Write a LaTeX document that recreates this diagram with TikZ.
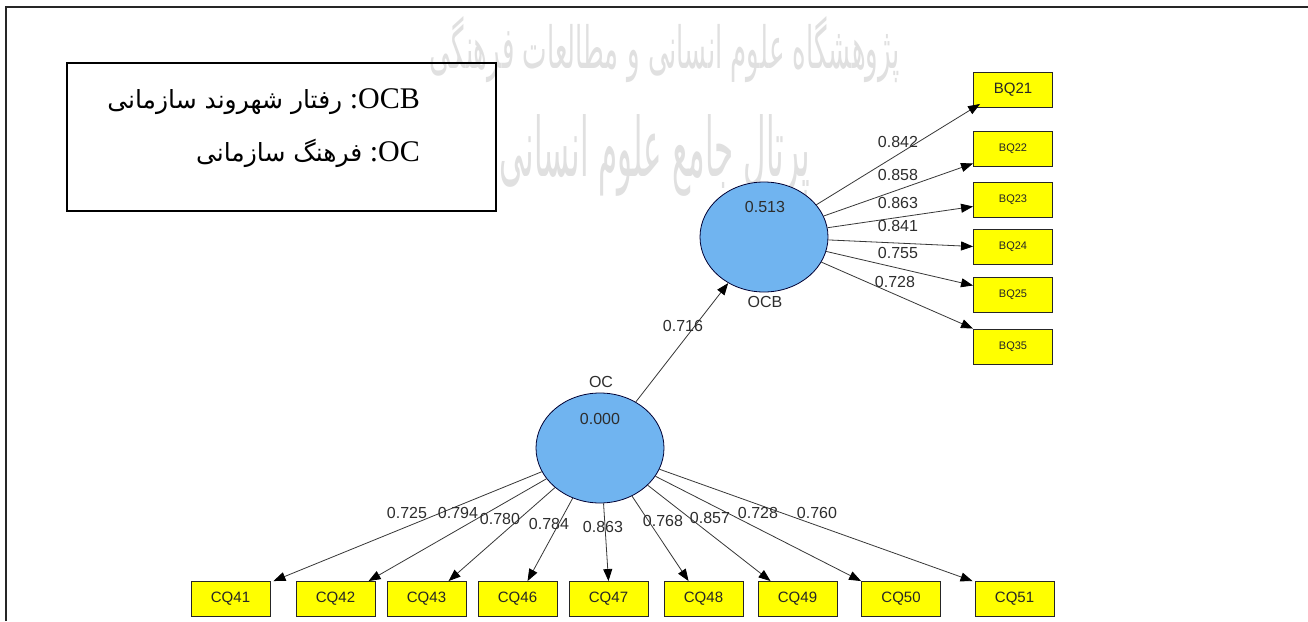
\documentclass[tikz,border=0pt]{standalone}
\usepackage{fontspec}
\usepackage{graphicx}
\setmainfont{Liberation Serif}
\newfontfamily\arialf{Liberation Sans}
\newfontfamily\farsi[Script=Arabic]{DejaVu Sans}
\TeXXeTstate=1
\usetikzlibrary{shapes.geometric,arrows.meta}
\definecolor{lvblue}{RGB}{112,180,240}
\definecolor{boxyellow}{RGB}{255,255,0}
\definecolor{edgegray}{RGB}{55,55,55}
\definecolor{txtgray}{RGB}{45,45,45}
\definecolor{wmgray}{RGB}{224,224,224}
\begin{document}
\begin{tikzpicture}[x=1pt,y=-1pt,
  lv/.style={ellipse, draw=black!80!blue, line width=0.8pt, fill=lvblue,
    minimum width=128pt, minimum height=110pt, inner sep=0pt},
  mv/.style={rectangle, draw=black!85, line width=0.9pt, fill=boxyellow,
    minimum width=79pt, minimum height=35pt, inner sep=0pt,
    font=\arialf\fontsize{15}{15}\selectfont, text=black!85},
  mvs/.style={mv, font=\arialf\fontsize{11}{11}\selectfont},
  num/.style={font=\arialf\fontsize{16}{16}\selectfont, text=txtgray, inner sep=0pt},
  arr/.style={-{Triangle[length=12pt,width=9pt,color=black]}, draw=edgegray, line width=0.8pt},
  legtxt/.style={font=\fontsize{30}{30}\selectfont, inner sep=0pt},
  wmark/.style={text=wmgray, inner sep=0pt},
]
\useasboundingbox (0,0) rectangle (1308,621);
\fill[white] (0,0) rectangle (1308,621);

% watermark
\node[wmark] (wm1) at (665,50) {\resizebox{470pt}{52pt}{\farsi\beginR پژوهشگاه علوم انسانی و مطالعات فرهنگی\endR}};
\node[wmark] (wm2) at (655,155) {\resizebox{310pt}{62pt}{\farsi\beginR پرتال جامع علوم انسانی\endR}};

% frame
\draw[line width=1.5pt, black!85] (6,621) -- (6,7) -- (1308,7);

% legend
\node[draw, line width=1.6pt, minimum width=429pt, minimum height=148pt,
  anchor=north west, inner sep=0pt] (legend) at (66,62) {};
\node[legtxt, anchor=base east] (leg1) at (420,108)
  {{\farsi\fontsize{25}{25}\selectfont\beginR رفتار شهروند سازمانی\endR}\ :OCB};
\node[legtxt, anchor=base east] (leg2) at (420,161)
  {{\farsi\fontsize{25}{25}\selectfont\beginR فرهنگ سازمانی\endR}\ :OC};

% latent variables
\node[lv] (OCB) at (764,237) {};
\node[lv] (OC) at (600,448) {};
\node[num] (OCBr) at (765,207) {0.513};
\node[num] (OCBn) at (765,302) {OCB};
\node[num] (OCr) at (600,419) {0.000};
\node[num] (OCn) at (601,382) {OC};

% OCB indicators
\node[mv]  (BQ21) at (1013,90)    {BQ21};
\node[mvs] (BQ22) at (1013,148.5) {BQ22};
\node[mvs] (BQ23) at (1013,199.5) {BQ23};
\node[mvs] (BQ24) at (1013,246.5) {BQ24};
\node[mvs] (BQ25) at (1013,294.5) {BQ25};
\node[mvs] (BQ35) at (1013,346.5) {BQ35};

% OC indicators
\node[mv] (CQ41) at (230.5,599) {CQ41};
\node[mv] (CQ42) at (335.5,599) {CQ42};
\node[mv] (CQ43) at (426.5,599) {CQ43};
\node[mv] (CQ46) at (517.5,599) {CQ46};
\node[mv] (CQ47) at (608.5,599) {CQ47};
\node[mv] (CQ48) at (703.5,599) {CQ48};
\node[mv] (CQ49) at (797.5,599) {CQ49};
\node[mv] (CQ50) at (901,599)   {CQ50};
\node[mv] (CQ51) at (1014.5,599) {CQ51};

% structural path
\draw[arr] (OC) -- (OCB);
\node[num] (p1) at (683,326) {0.716};

% OCB loadings
\draw[arr] (OCB) -- ([xshift=7pt,yshift=4pt]BQ21.south west);
\draw[arr] (OCB) -- ([yshift=3pt]BQ22.south west);
\draw[arr] (OCB) -- ([yshift=-7pt]BQ23.west);
\draw[arr] (OCB) -- (BQ24.west);
\draw[arr] (OCB) -- ([yshift=9pt]BQ25.west);
\draw[arr] (OCB) -- (BQ35.north west);
\node[num] (l21) at (898,142) {0.842};
\node[num] (l22) at (898,175) {0.858};
\node[num] (l23) at (898,203) {0.863};
\node[num] (l24) at (898,226) {0.841};
\node[num] (l25) at (898,253) {0.755};
\node[num] (l35) at (895,282) {0.728};

% OC loadings
\draw[arr] (OC) -- ([xshift=3pt]CQ41.north east);
\draw[arr] (OC) -- ([xshift=73pt]CQ42.north west);
\draw[arr] (OC) -- ([xshift=62pt]CQ43.north west);
\draw[arr] (OC) -- ([xshift=50pt]CQ46.north west);
\draw[arr] (OC) -- (CQ47.north);
\draw[arr] (OC) -- ([xshift=25pt]CQ48.north west);
\draw[arr] (OC) -- ([xshift=13pt]CQ49.north west);
\draw[arr] (OC) -- (CQ50.north west);
\draw[arr] (OC) -- ([xshift=-2pt]CQ51.north west);
\node[num] (l41) at (407,513) {0.725};
\node[num] (l42) at (458,513) {0.794};
\node[num] (l43) at (500,519) {0.780};
\node[num] (l46) at (549,524) {0.784};
\node[num] (l47) at (603,527) {0.863};
\node[num] (l48) at (663,521) {0.768};
\node[num] (l49) at (710,518) {0.857};
\node[num] (l50) at (758,513) {0.728};
\node[num] (l51) at (817,513) {0.760};
\end{tikzpicture}
\end{document}
